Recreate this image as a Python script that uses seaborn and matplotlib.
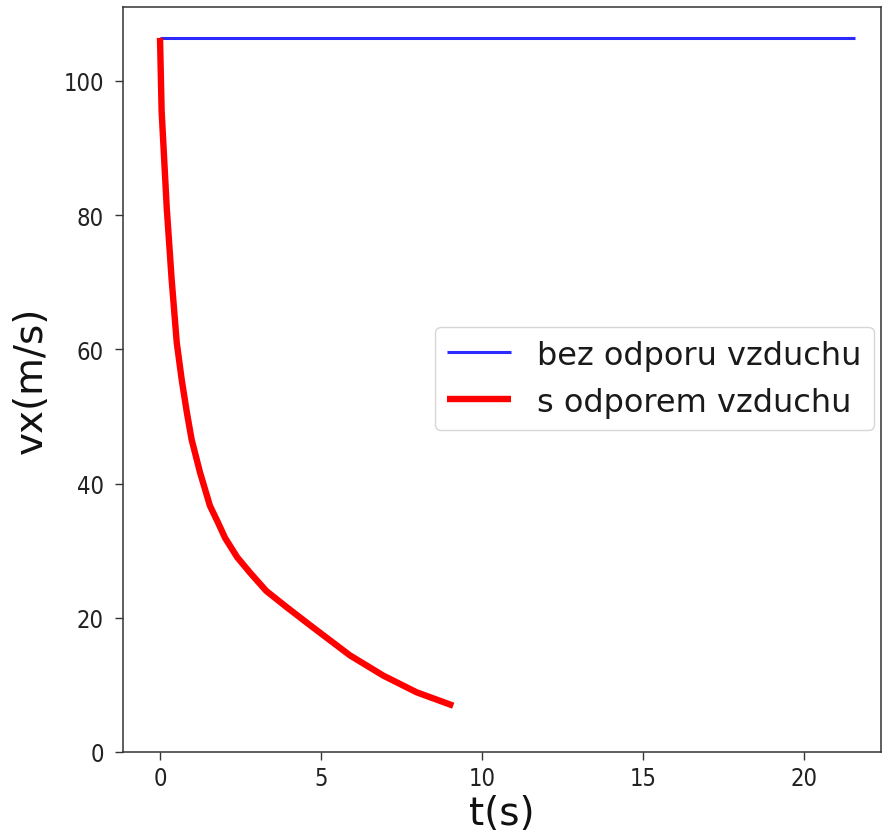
import matplotlib
matplotlib.use("Agg")
import matplotlib.pyplot as plt
import seaborn as sns
import pandas as pd

# Horizontal velocity component over time
t_bez = [0.0, 21.6]
vx_bez = [106.4, 106.4]

t_s = [0.0, 0.05, 0.21, 0.36, 0.52, 0.67, 0.83, 0.98, 1.24, 1.55, 1.80,
       2.02, 2.40, 2.80, 3.30, 3.93, 4.66, 5.90, 6.93, 7.97, 9.11]
vx_s = [106.4, 95.5, 81.0, 70.5, 61.0, 55.6, 50.7, 46.6, 41.7, 36.7, 34.2,
        31.9, 29.0, 26.7, 24.0, 21.6, 18.9, 14.4, 11.4, 8.9, 6.9]

label_bez = "bez odporu vzduchu"
label_s = "s odporem vzduchu"

x_ticks = [0, 5, 10, 15, 20]
y_ticks = [0, 20, 40, 60, 80, 100]

sns.set_style("ticks")
plt.rcParams["font.family"] = ["DejaVu Sans"]

fig = plt.figure(figsize=(8.83, 8.37), dpi=100)
ax = fig.add_axes([123 / 883, 1 - 753 / 837, (881 - 123) / 883, (753 - 8) / 837])

df_bez = pd.DataFrame({"t": t_bez, "vx": vx_bez})
df_s = pd.DataFrame({"t": t_s, "vx": vx_s})

sns.lineplot(data=df_bez, x="t", y="vx", ax=ax, color="#2b2bff", lw=2.2,
             label=label_bez, solid_capstyle="butt")
sns.lineplot(data=df_s, x="t", y="vx", ax=ax, color="red", lw=4.6,
             label=label_s, solid_capstyle="butt", solid_joinstyle="round")

ax.set_xlim(-1.15, 22.4)
ax.set_ylim(0, 111)
ax.set_xticks(x_ticks)
ax.set_yticks(y_ticks)

for lab in ax.get_xticklabels() + ax.get_yticklabels():
    lab.set_fontsize(17)
    lab.set_fontstretch("condensed")
    lab.set_color("#222222")

ax.tick_params(axis="both", length=5.8, width=1.0, color="#333333")
ax.tick_params(axis="x", pad=4.5)
ax.tick_params(axis="y", pad=8)

for sp in ax.spines.values():
    sp.set_linewidth(1.1)
    sp.set_color("#333333")

ax.set_xlabel("t(s)", fontsize=28, color="#111111")
ax.set_ylabel("vx(m/s)", fontsize=28, color="#111111")
ax.xaxis.set_label_coords(0.5, -0.057)
ax.yaxis.set_label_coords(-0.096, 0.5)

leg = ax.legend(loc="center right", bbox_to_anchor=(0.9908, 0.5013),
                borderaxespad=0, fontsize=23, frameon=True, fancybox=True)
for txt in leg.get_texts():
    txt.set_color("#1a1a1a")

fig.savefig("out.png", dpi=100)
